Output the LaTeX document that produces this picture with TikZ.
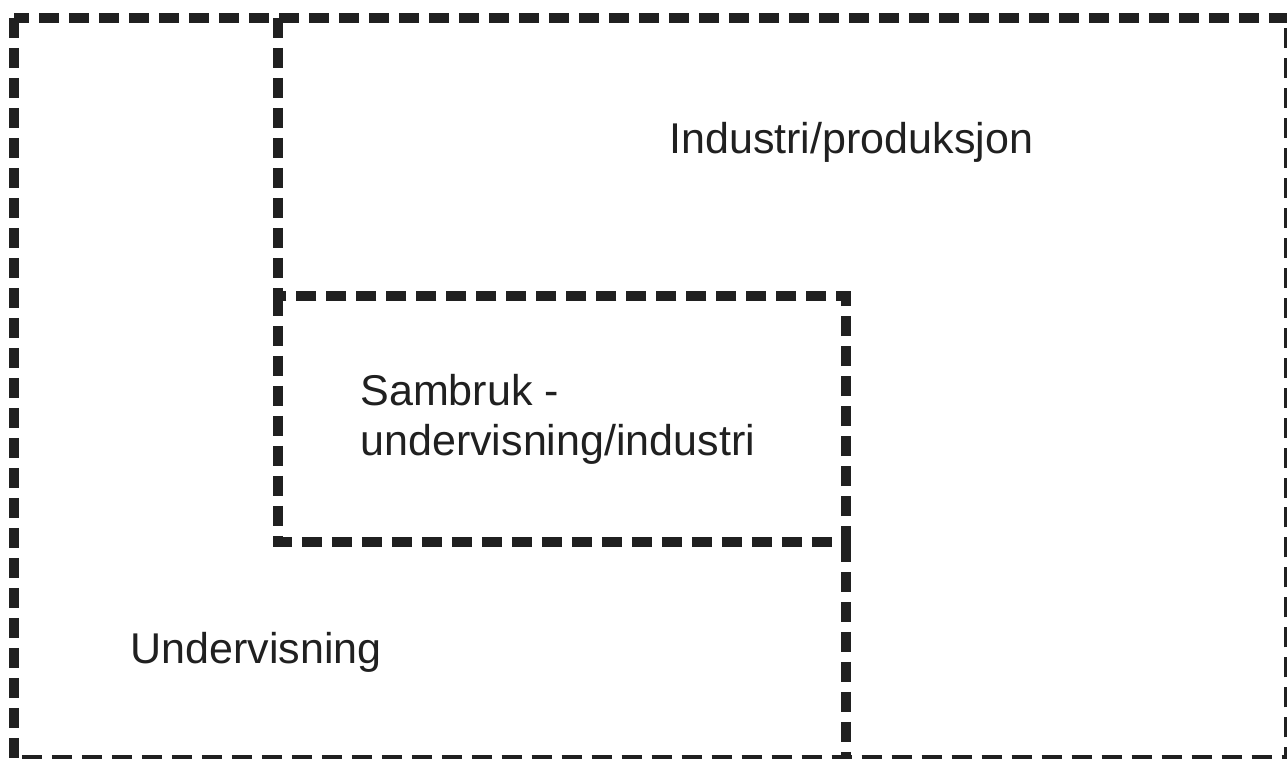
\documentclass[tikz,border=0pt]{standalone}
\usepackage{fontspec}
\setmainfont{Liberation Sans}
\usepackage{tikz}
\usepackage{xcolor}
\definecolor{inkdark}{RGB}{32,32,32}
\tikzset{
    zone-line/.style = {draw=inkdark, line width=0.2cm, dash pattern=on 0.4cm off 0.2cm, line cap=butt},
    zone-label/.style = {text=inkdark, inner sep=0pt, anchor=base west, align=left, font=\fontsize{24.5}{27.9}\selectfont},
}

\begin{document}
\begin{tikzpicture}[x=0.02cm, y=-0.02cm]
\useasboundingbox (0,0) rectangle (1287,758);
\fill[white] (0,0) rectangle (1287,758);
\clip (0,0) rectangle (1287,758);
% outer frame: undervisning
\draw[zone-line] (14,18) rectangle (1289,760);
% industri boundary
\draw[zone-line] (278,18) -- (278,296);
\draw[zone-line] (278,296) rectangle (846,542);
\draw[zone-line] (846,542) -- (846,760);
% labels
\node[zone-label] (industri) at (669,153) {Industri/produksjon};
\node[zone-label] (sambruk) at (360,455) {Sambruk -\\undervisning/industri};
\node[zone-label] (undervisning) at (130,663) {Undervisning};
\end{tikzpicture}
\end{document}
